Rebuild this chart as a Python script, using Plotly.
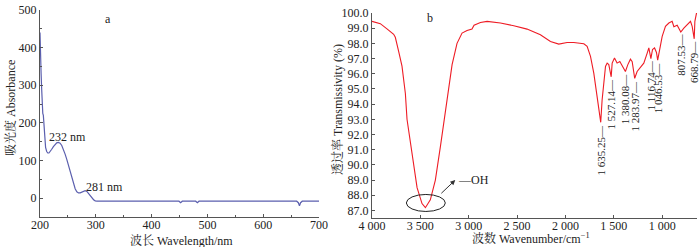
import plotly.graph_objects as go

# ---- Panel a: UV absorbance ----
uv_wavelength = [200, 200.5, 201, 202, 203, 204, 205, 206, 207, 208, 209, 210, 212, 214, 216, 218,
                 221, 224, 227, 230, 233, 236, 239, 242, 245, 248, 251, 254, 257, 260, 263, 266,
                 269, 272, 275, 278, 281, 284, 287, 290, 293, 296, 299, 302, 350, 400, 449, 452,
                 455, 479, 482, 485, 550, 600, 650, 660, 663, 665, 667, 670, 700]
uv_absorbance = [440, 380, 350, 330, 290, 240, 225, 220, 190, 165, 150, 135, 124, 120, 120, 123,
                 130, 137, 143, 147, 148, 146, 140, 130, 117, 103, 86, 68, 51, 36, 25, 17,
                 14, 14, 16, 19, 20, 18, 12, 6, 1, -4, -7, -8, -8, -8, -8, -12,
                 -8, -8, -12, -8, -8, -8, -8, -8, -12, -20, -12, -8, -8]

# ---- Panel b: IR transmissivity ----
ir_wavenumber = [4000, 3914, 3845, 3776, 3759, 3741, 3724, 3690, 3655, 3638, 3586, 3534, 3483,
                 3448, 3397, 3345, 3293, 3250, 3207, 3172, 3121, 3069, 3017, 2966, 2945, 2879,
                 2810, 2672, 2534, 2397, 2259, 2155, 2069, 1983, 1914, 1810, 1776, 1741, 1707,
                 1672, 1635.25, 1621, 1586, 1569, 1552, 1527.14, 1517, 1493, 1466, 1438, 1414,
                 1380.08, 1355, 1328, 1310, 1283.97, 1259, 1224, 1190, 1155, 1138, 1116.74, 1100,
                 1079, 1059, 1046.53, 1024, 1000, 966, 931, 897, 879, 845, 817, 807.53, 776, 724,
                 707, 690, 668.79, 662, 645]
ir_transmissivity = [99.45, 99.3, 98.95, 98.6, 98.4, 97.8, 97.45, 96.5, 94.7, 93.0, 90.75, 88.5, 87.45,
                     87.18, 87.7, 89.0, 91.2, 93.0, 94.9, 96.6, 98.0, 98.68, 98.85, 98.95, 99.2, 99.38,
                     99.45, 99.34, 99.16, 98.94, 98.57, 98.13, 97.95, 98.06, 98.06, 97.97, 97.8, 97.14, 96.04,
                     94.27, 92.8, 94.27, 96.48, 96.7, 96.6, 95.8, 96.7, 97.03, 96.7, 96.8, 96.5,
                     96.15, 96.6, 96.96, 96.8, 95.7, 96.15, 96.4, 96.7, 97.36, 97.7, 97.0, 97.6,
                     97.7, 97.4, 96.9, 97.6, 98.46, 99.12, 99.34, 99.45, 99.1, 99.2, 98.8, 98.75, 99.0, 99.34,
                     99.45, 99.12, 98.3, 99.45, 100.0]

peak_labels = ["1 635.25", "1 527.14", "1 380.08", "1 283.97", "1 116.74", "1 046.53", "807.53", "668.79"]
peak_positions = [1635.25, 1527.14, 1380.08, 1283.97, 1116.74, 1046.53, 807.53, 668.79]

ir_tickvals = [4000, 3500, 3000, 2500, 2000, 1500, 1000]
ir_ticktext = ["4 000", "3 500", "3 000", "2 500", "2 000", "1 500", "1 000"]

FONT = "Liberation Serif, 'Noto Serif CJK SC', 'Noto Sans CJK SC', serif"
AX = "#555555"
TXT = "#222222"
W, H = 700, 247

def px(x):
    return x / W

def py(y):
    return 1 - y / H

fig = go.Figure()
fig.add_trace(go.Scatter(x=uv_wavelength, y=uv_absorbance, mode="lines",
                         line=dict(color="#5b5fae", width=1.2), xaxis="x", yaxis="y",
                         showlegend=False, hoverinfo="skip"))
fig.add_trace(go.Scatter(x=ir_wavenumber, y=ir_transmissivity, mode="lines",
                         line=dict(color="#ee1c25", width=1.1), xaxis="x2", yaxis="y2",
                         showlegend=False, hoverinfo="skip"))

axis_common = dict(showgrid=False, zeroline=False, showline=True, linecolor=AX, linewidth=1,
                   ticks="inside", ticklen=3, tickcolor=AX, tickwidth=1, automargin=False,
                   tickfont=dict(family=FONT, size=12, color=TXT))

fig.update_layout(
    width=W, height=H, margin=dict(l=0, r=0, t=0, b=0, autoexpand=False),
    paper_bgcolor="white", plot_bgcolor="white",
    font=dict(family=FONT, size=12, color=TXT),
    xaxis=dict(domain=[px(40), px(319)], range=[200, 700], anchor="y",
               tickvals=[200, 300, 400, 500, 600, 700], ticklabelstandoff=-3,
               minor=dict(dtick=50, tick0=200, ticks="inside", ticklen=2, tickcolor=AX),
               **axis_common),
    yaxis=dict(domain=[py(217), py(10)], range=[-50, 500], anchor="x",
               tickvals=[0, 100, 200, 300, 400, 500],
               minor=dict(dtick=50, tick0=0, ticks="inside", ticklen=2, tickcolor=AX),
               **axis_common),
    xaxis2=dict(domain=[px(372), px(697)], range=[4000, 640], anchor="y2",
                tickvals=ir_tickvals, ticktext=ir_ticktext, ticklabelstandoff=-3, **axis_common),
    yaxis2=dict(domain=[py(218), py(13)], range=[86.5, 100.0], anchor="x2",
                tickvals=list(range(87, 101)), tickformat=".1f", **axis_common),
)

C = dict(xanchor="center", yanchor="middle", showarrow=False, font=dict(size=12))
ann = []
# axis titles
ann.append(dict(text="吸光度 Absorbance", x=px(10), y=py(108), xref="paper", yref="paper",
                textangle=-90, **C))
ann.append(dict(text="波长 Wavelength/nm", x=px(181), y=py(240), xref="paper", yref="paper", **C))
ann.append(dict(text="透过率 Transmissivity (%)", x=px(337), y=py(110), xref="paper", yref="paper",
                textangle=-90, **C))
ann.append(dict(text="波数 Wavenumber/cm<sup>−1</sup>", x=px(531), y=py(238), xref="paper", yref="paper", **C))
# panel letters
ann.append(dict(text="a", x=px(108), y=py(19), xref="paper", yref="paper", **C))
ann.append(dict(text="b", x=px(430), y=py(18), xref="paper", yref="paper", **C))
# UV peak labels
ann.append(dict(text="232 nm", x=250, y=163, xref="x", yref="y", **C))
ann.append(dict(text="281 nm", x=315, y=29, xref="x", yref="y", **C))
# IR peak labels
lookup = dict(zip(ir_wavenumber, ir_transmissivity))
for lab, pos in zip(peak_labels, peak_positions):
    ann.append(dict(text=lab + "—", x=pos, y=lookup[pos], xref="x2", yref="y2", textangle=-90,
                    xanchor="center", yanchor="top", showarrow=False, font=dict(size=11),
                    yshift=-1, borderpad=0))
# OH arrow and label
ann.append(dict(text=" ", x=3139, y=89.0, xref="x2", yref="y2", ax=3314, ay=87.94,
                axref="x2", ayref="y2", showarrow=True, arrowhead=2, arrowsize=1, arrowwidth=1,
                arrowcolor="#333333", standoff=0, startstandoff=0))
ann.append(dict(text="—OH", x=3139, y=89.0, xref="x2", yref="y2", xanchor="left", yanchor="middle",
                showarrow=False, font=dict(size=12), xshift=1))
fig.update_layout(annotations=ann)

fig.add_shape(type="circle", xref="x2", yref="y2", x0=3645, x1=3242, y0=86.93, y1=88.05,
              line=dict(color="#222222", width=1))

fig.write_html("out.html", config={"displayModeBar": False},
               post_script="document.body.style.margin='0';document.body.style.overflow='hidden';")
